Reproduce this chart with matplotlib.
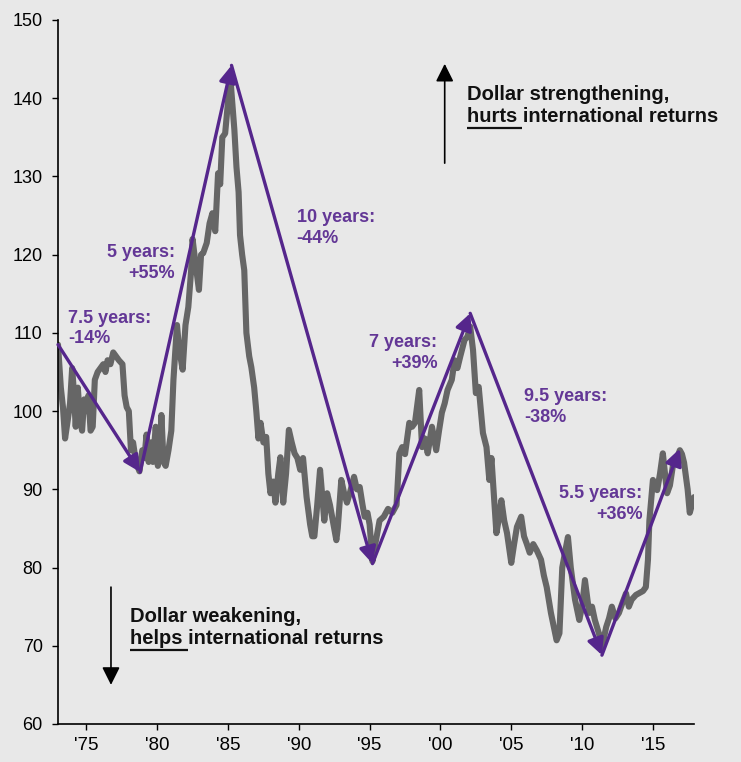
import numpy as np
import matplotlib
matplotlib.use("Agg")
from matplotlib import pyplot as plt

plt.rcParams['font.family'] = ['Liberation Sans', 'DejaVu Sans']

# trade-weighted dollar index
years = [1973.0, 1973.2, 1973.35, 1973.5, 1973.7, 1973.85, 1974.0, 1974.1, 1974.25, 1974.4,
         1974.55, 1974.7, 1974.85, 1975.0, 1975.15, 1975.3, 1975.45, 1975.6, 1975.8, 1976.0,
         1976.2, 1976.35, 1976.5, 1976.7, 1976.9, 1977.1, 1977.3, 1977.55, 1977.7, 1977.85,
         1978.0, 1978.15, 1978.3, 1978.5, 1978.75, 1978.95, 1979.1, 1979.25, 1979.4, 1979.55,
         1979.7, 1979.9, 1980.05, 1980.2, 1980.3, 1980.45, 1980.6, 1980.8, 1981.0, 1981.15,
         1981.4, 1981.55, 1981.8, 1982.0, 1982.2, 1982.4, 1982.5, 1982.7, 1982.95, 1983.1,
         1983.25, 1983.5, 1983.7, 1983.9, 1984.1, 1984.3, 1984.45, 1984.6, 1984.8, 1985.0,
         1985.15, 1985.3, 1985.45, 1985.6, 1985.75, 1985.85, 1986.0, 1986.15, 1986.3, 1986.5,
         1986.65, 1986.85, 1987.0, 1987.15, 1987.3, 1987.5, 1987.7, 1987.85, 1988.0, 1988.2,
         1988.35, 1988.55, 1988.7, 1988.9, 1989.1, 1989.3, 1989.5, 1989.7, 1989.9, 1990.1,
         1990.3, 1990.55, 1990.8, 1990.95, 1991.1, 1991.3, 1991.5, 1991.8, 1992.0, 1992.2,
         1992.4, 1992.65, 1992.75, 1993.0, 1993.2, 1993.4, 1993.6, 1993.9, 1994.1, 1994.3,
         1994.5, 1994.65, 1994.85, 1995.0, 1995.2, 1995.4, 1995.7, 1996.0, 1996.3, 1996.6,
         1996.9, 1997.1, 1997.3, 1997.5, 1997.8, 1998.0, 1998.2, 1998.5, 1998.7, 1998.9,
         1999.1, 1999.4, 1999.7, 1999.9, 2000.1, 2000.3, 2000.5, 2000.8, 2001.0, 2001.2,
         2001.4, 2001.7, 2001.9, 2002.1, 2002.3, 2002.5, 2002.7, 2003.0, 2003.25, 2003.45,
         2003.6, 2003.95, 2004.1, 2004.3, 2004.5, 2004.7, 2005.0, 2005.2, 2005.4, 2005.7,
         2005.9, 2006.1, 2006.3, 2006.55, 2006.8, 2007.1, 2007.3, 2007.5, 2007.8, 2008.05,
         2008.2, 2008.4, 2008.6, 2008.8, 2009.0, 2009.2, 2009.5, 2009.8, 2010.0, 2010.2,
         2010.5, 2010.7, 2010.9, 2011.2, 2011.4, 2011.7, 2011.9, 2012.1, 2012.35, 2012.6,
         2012.85, 2013.1, 2013.3, 2013.5, 2013.8, 2014.0, 2014.3, 2014.5, 2014.65, 2014.75,
         2015.0, 2015.3, 2015.5, 2015.7, 2015.85, 2016.0, 2016.2, 2016.4, 2016.7, 2016.9,
         2017.05, 2017.2, 2017.45, 2017.6, 2017.9]
values = [108.5, 103, 100.5, 96.5, 99, 101, 105.5, 103, 98, 103,
          99, 97.5, 101.5, 100, 102, 97.5, 98, 104, 105, 105.5,
          106, 105, 106.5, 106, 107.5, 107, 106.5, 106, 102, 100.5,
          100, 95, 96, 93.5, 92.3, 95, 94, 97, 93.5, 96,
          93.5, 98, 93, 95, 99.5, 93.5, 93, 95, 97.5, 104,
          111, 108, 105.3, 111, 113.3, 118, 122, 119, 115.5, 120,
          120.2, 121.5, 124, 125.3, 123, 130.4, 129, 135, 135.5, 139.5,
          143, 139.5, 136, 131.2, 128, 122.5, 120, 118, 110, 107,
          105.6, 103, 100, 96.5, 98.5, 96, 96.7, 92, 89.5, 91,
          88.3, 92, 94.1, 88.3, 92, 97.6, 96, 94.6, 94, 92.5,
          94, 89, 85.5, 84, 84, 88, 92.5, 86, 89.5, 88,
          86, 83.5, 85, 91.2, 89.5, 88.3, 89.5, 91.6, 90, 90.3,
          88, 86.5, 87, 85.5, 80.8, 83, 86, 86.5, 87.5, 87,
          88, 94.6, 95.4, 94.5, 98.5, 98, 98.5, 102.7, 95.4, 96.5,
          94.6, 98, 95, 97.5, 99.8, 101, 102.7, 104, 106.5, 105.5,
          107, 109.1, 109.5, 110.8, 107.8, 102.3, 103.1, 97.2, 95.4, 91.2,
          94, 84.4, 86, 88.6, 86, 84.4, 80.6, 83, 85.2, 86.5,
          84, 83, 81.9, 83, 82.2, 81, 79, 77.5, 74.2, 72,
          70.7, 71.6, 80, 82, 83.9, 80, 75.9, 73.3, 75, 78.4,
          74.2, 75, 73.3, 71.5, 69.8, 72.4, 73.5, 75, 73.5, 74.2,
          75.5, 76.7, 75, 75.9, 76.5, 76.7, 77, 77.5, 81, 86,
          91.2, 89.9, 92, 94.6, 92, 89.5, 90.5, 92.9, 94, 95,
          94.5, 93.4, 90, 87, 89]

# turning points of the dollar cycles
trend_years = [1973.0, 1978.8, 1985.25, 1995.2, 2002.1, 2011.4, 2016.9]
trend_values = [108.5, 92.2, 144.2, 80.5, 112.5, 68.8, 95.2]
cycle_labels = ['7.5 years:\n-14%', '5 years:\n+55%', '10 years:\n-44%',
                '7 years:\n+39%', '9.5 years:\n-38%', '5.5 years:\n+36%']

tick_years = [1975, 1980, 1985, 1990, 1995, 2000, 2005, 2010, 2015]
tick_labels = ["'75", "'80", "'85", "'90", "'95", "'00", "'05", "'10", "'15"]

bg = '#e8e8e8'
purple = '#55268c'
purple_text = '#633796'

fig = plt.figure(figsize=(7.41, 7.62), dpi=100, facecolor=bg)
ax = fig.add_axes([58 / 741, 1 - 724 / 762, 636 / 741, 704 / 762])
ax.set_facecolor(bg)

ax.plot(years, values, color='#666666', lw=4.4, solid_joinstyle='round',
        solid_capstyle='round', zorder=2)

# cycle arrows
for i in range(len(trend_years) - 1):
    ax.annotate('', xy=(trend_years[i + 1], trend_values[i + 1]),
                xytext=(trend_years[i], trend_values[i]),
                arrowprops=dict(arrowstyle='-|>,head_length=0.5,head_width=0.25',
                                mutation_scale=20, color=purple, lw=2.4,
                                shrinkA=0, shrinkB=0),
                zorder=3)

# cycle labels: (x, y of first baseline, alignment)
label_pos = [(1973.71, 111.3, 'left'), (1981.25, 119.7, 'right'), (1989.85, 124.2, 'left'),
             (1999.8, 108.2, 'right'), (2005.93, 101.3, 'left'), (2014.26, 88.85, 'right')]
for txt, (lx, ly, ha) in zip(cycle_labels, label_pos):
    line1, line2 = txt.split('\n')
    ax.text(lx, ly, line1, ha=ha, va='baseline', fontsize=13, fontweight='bold',
            color=purple_text)
    ax.text(lx, ly - 2.65, line2, ha=ha, va='baseline', fontsize=13, fontweight='bold',
            color=purple_text)

# direction arrows
ax.annotate('', xy=(2000.3, 144.4), xytext=(2000.3, 131.7),
            arrowprops=dict(arrowstyle='-|>,head_length=0.6,head_width=0.3',
                            mutation_scale=18, color='black', lw=1.2,
                            shrinkA=0, shrinkB=0))
ax.annotate('', xy=(1976.74, 65.0), xytext=(1976.74, 77.5),
            arrowprops=dict(arrowstyle='-|>,head_length=0.6,head_width=0.3',
                            mutation_scale=18, color='black', lw=1.2,
                            shrinkA=0, shrinkB=0))

notes = [(2001.84, 139.77, 'Dollar strengthening,', 'hurts', ' international returns'),
         (1978.08, 73.04, 'Dollar weakening,', 'helps', ' international returns')]
fig.canvas.draw()
renderer = fig.canvas.get_renderer()
for nx, ny, first, word, rest in notes:
    ax.text(nx, ny, first, ha='left', va='baseline', fontsize=14.5, fontweight='bold',
            color='#111111')
    ax.text(nx, ny - 2.85, word + rest, ha='left', va='baseline', fontsize=14.5,
            fontweight='bold', color='#111111')
    probe = ax.text(nx, ny - 2.85, word, ha='left', va='baseline', fontsize=14.5,
                    fontweight='bold', alpha=0)
    bb = probe.get_window_extent(renderer)
    x0 = ax.transData.inverted().transform((bb.x0, 0))[0]
    x1 = ax.transData.inverted().transform((bb.x1, 0))[0]
    ax.plot([x0, x1], [ny - 3.55, ny - 3.55], color='#111111', lw=1.6,
            solid_capstyle='butt')

ax.set_xlim(1973.0, 2017.9)
ax.set_ylim(60, 150)
ax.set_yticks(np.arange(60, 151, 10))
ax.set_xticks(tick_years)
ax.set_xticklabels(tick_labels)
for s in ['top', 'right']:
    ax.spines[s].set_visible(False)
for s in ['left', 'bottom']:
    ax.spines[s].set_linewidth(1.2)
ax.tick_params(axis='y', direction='out', length=4, width=1, pad=7, labelsize=13)
ax.tick_params(axis='x', direction='out', length=4.5, width=1, pad=5, labelsize=13.5)

fig.savefig('out.png', dpi=100, facecolor=bg)
